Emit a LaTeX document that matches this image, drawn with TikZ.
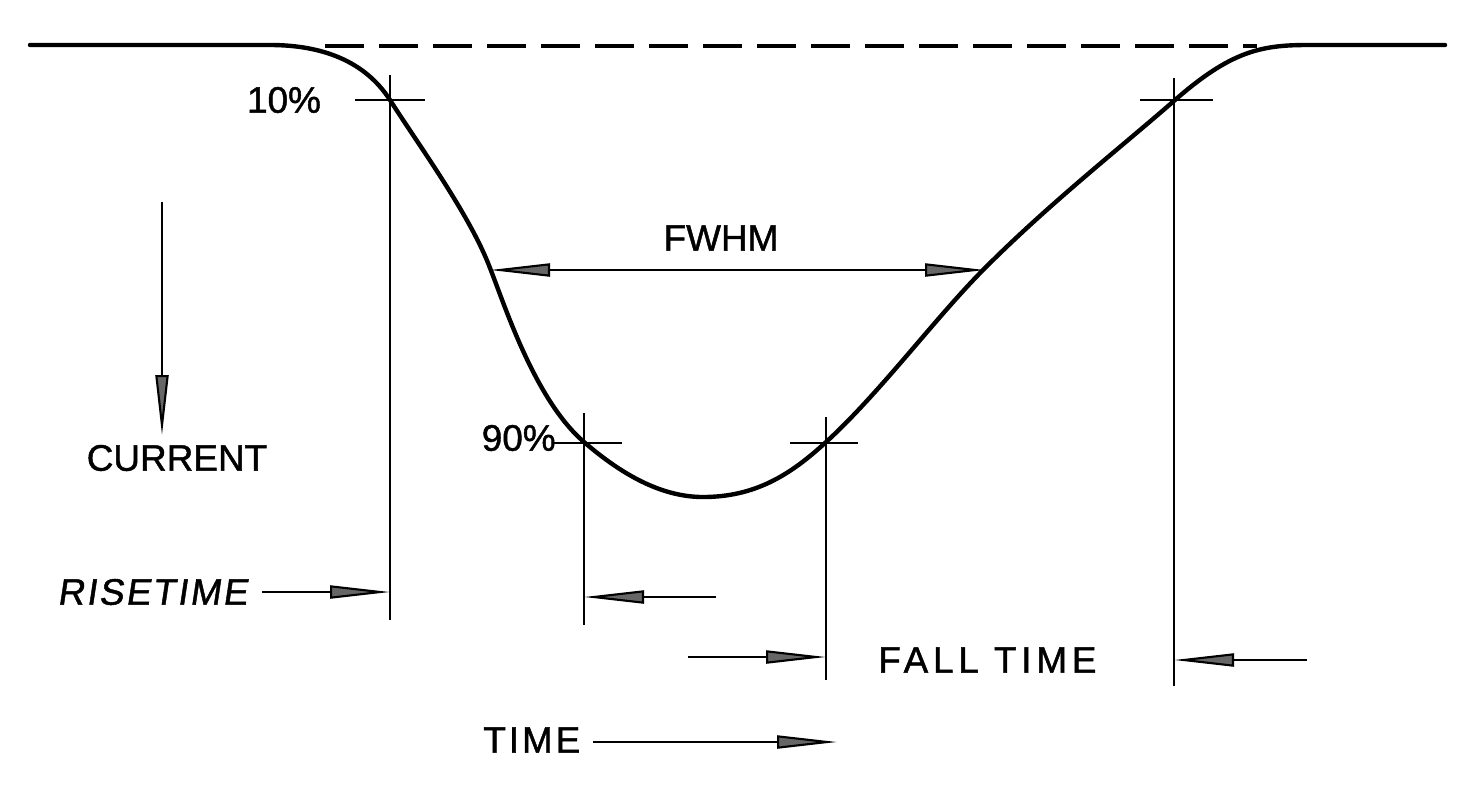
\documentclass[tikz,border=0pt]{standalone}
\usepackage{fontspec}
\setmainfont{Liberation Sans}[FakeBold=1.2]
\newfontfamily\spacedfont{Liberation Sans}[LetterSpace=8,FakeBold=1.2]
\newfontfamily\widefont{Liberation Sans}[LetterSpace=13,FakeBold=1.2]
\newfontfamily\slantfont{Liberation Sans}[LetterSpace=6,FakeBold=1.2,FakeSlant=0.15]
\usetikzlibrary{arrows.meta}
\begin{document}
\begin{tikzpicture}[x=0.2mm,y=-0.2mm,
  curve/.style={line width=2.5pt, line cap=round},
  guide/.style={line width=0.9pt},
  level/.style={line width=2.2pt, dash pattern=on 7.8mm off 3mm},
  dim/.style={line width=1.2pt, -{Triangle[length=12mm,width=2.6mm,fill=black!60]}},
  lbl/.style={font=\fontsize{21}{24}\selectfont, inner sep=0pt}]
\useasboundingbox (0,0) rectangle (1465,784);
% key points
\coordinate (s0)   at (30,45);
\coordinate (s1)   at (270,45);
\coordinate (p10L) at (390,100);
\coordinate (pHL)  at (490,268);
\coordinate (p90L) at (584,442);
\coordinate (pmin) at (703,497);
\coordinate (p90R) at (825,443);
\coordinate (pHR)  at (985,268);
\coordinate (p10R) at (1175,100);
\coordinate (e1)   at (1307,45);
\coordinate (e0)   at (1445,45);
% pulse
\draw[curve] (s0) -- (s1)
  .. controls (322,45) and (365,61) .. (p10L)
  .. controls (418,144) and (470,215) .. (pHL)
  .. controls (505,306) and (535,400) .. (p90L)
  .. controls (620,473) and (660,497) .. (pmin)
  .. controls (755,497) and (790,475) .. (p90R)
  .. controls (880,393) and (935,318) .. (pHR)
  .. controls (1050,203) and (1120,148) .. (p10R)
  .. controls (1230,52) and (1260,45) .. (e1)
  -- (e0);
% dashed reference level
\coordinate (d0) at (325,46);
\coordinate (d1) at (1257,46);
\draw[level] (d0) -- (d1);
% guide lines and crosses
\coordinate (v1t) at (390,75);   \coordinate (v1b) at (390,620);
\coordinate (h1l) at (355,100);  \coordinate (h1r) at (425,100);
\coordinate (v2t) at (584,413);  \coordinate (v2b) at (584,625);
\coordinate (h2l) at (553,443);  \coordinate (h2r) at (622,443);
\coordinate (v3t) at (826,417);  \coordinate (v3b) at (826,680);
\coordinate (h3l) at (790,443);  \coordinate (h3r) at (858,443);
\coordinate (v4t) at (1174,78);  \coordinate (v4b) at (1174,686);
\coordinate (h4l) at (1140,100); \coordinate (h4r) at (1213,100);
\draw[guide] (v1t) -- (v1b) (h1l) -- (h1r);
\draw[guide] (v2t) -- (v2b) (h2l) -- (h2r);
\draw[guide] (v3t) -- (v3b) (h3l) -- (h3r);
\draw[guide] (v4t) -- (v4b) (h4l) -- (h4r);
% labels
\node[lbl] (t10) at (284,100) {10\%};
\node[lbl,anchor=east] (t90) at (556,438) {90\%};
\node[lbl] (fwhm) at (721,238) {FWHM};
\node[lbl] (cur) at (177,458) {CURRENT};
\node[lbl,anchor=west,font=\fontsize{21}{24}\slantfont] (rise) at (57,592) {RISETIME};
\node[lbl,anchor=west,font=\fontsize{21}{24}\widefont] (fall) at (878,660) {FALL TIME};
\node[lbl,anchor=west,font=\fontsize{21}{24}\spacedfont] (time) at (483,740) {TIME};
% FWHM arrows
\coordinate (fm) at (740,270);
\draw[dim] (fm) -- (pHL |- fm);
\draw[dim] (fm) -- (pHR |- fm);
% current arrow
\coordinate (c0) at (162,202);
\coordinate (c1) at (162,435);
\draw[dim] (c0) -- (c1);
% rise time arrows
\coordinate (r0) at (262,592);
\draw[dim] (r0) -- (v1b |- r0);
\coordinate (r1) at (716,597);
\draw[dim] (r1) -- (v2b |- r1);
% fall time arrows
\coordinate (f0) at (688,657);
\draw[dim] (f0) -- (v3b |- f0);
\coordinate (f1) at (1307,660);
\draw[dim] (f1) -- (v4b |- f1);
% time arrow
\coordinate (ta) at (593,742);
\coordinate (tb) at (837,742);
\draw[dim] (ta) -- (tb);
\end{tikzpicture}
\end{document}
